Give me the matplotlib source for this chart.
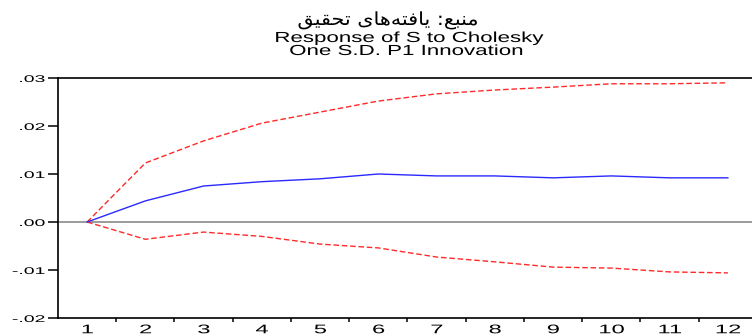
import matplotlib
matplotlib.use("Agg")
import matplotlib.pyplot as plt
from matplotlib.ticker import FixedLocator
from matplotlib.patheffects import AbstractPathEffect
from matplotlib.transforms import Affine2D

periods = list(range(1, 13))
response = [0.0, 0.0044, 0.0075, 0.0084, 0.0090, 0.0100, 0.0096, 0.0096, 0.0092, 0.0096, 0.0092, 0.0092]
upper = [0.0, 0.0123, 0.0169, 0.0206, 0.0229, 0.0252, 0.0267, 0.0275, 0.0281, 0.0288, 0.0288, 0.0290]
lower = [0.0, -0.0036, -0.0021, -0.0030, -0.0046, -0.0054, -0.0073, -0.0083, -0.0094, -0.0096, -0.0104, -0.0106]
y_ticks = [-0.02, -0.01, 0.0, 0.01, 0.02, 0.03]
y_labels = ["-.02", "-.01", ".00", ".01", ".02", ".03"]
x_labels = [str(p) for p in periods]

# Persian caption "منبع: یافته‌های تحقیق" in pre-shaped visual order
persian_title = "\uFED6\uFEF4\uFED8\uFEA4\uFE97 \uFEEF\uFE8E\uFEEB\uFEEA\uFE98\uFED3\uFE8E\uFEF3 :\uFECA\uFE92\uFEE8\uFEE3"
title1 = "Response of S to Cholesky"
title2 = "One S.D. P1 Innovation"


class HStretch(AbstractPathEffect):
    """Draw text stretched horizontally about an anchor (the source image is widened)."""
    def __init__(self, sx, anchor="center"):
        super().__init__()
        self.sx = sx
        self.anchor = anchor

    def draw_path(self, renderer, gc, tpath, affine, rgbFace=None):
        if len(tpath.vertices) == 0:
            return
        v = affine.transform(tpath.vertices)
        if self.anchor == "right":
            cx = v[:, 0].max()
        elif self.anchor == "left":
            cx = v[:, 0].min()
        else:
            cx = 0.5 * (v[:, 0].min() + v[:, 0].max())
        new = affine + Affine2D().translate(-cx, 0).scale(self.sx, 1.0).translate(cx, 0)
        renderer.draw_path(gc, tpath, new, rgbFace)


plt.rcParams['font.family'] = ['Liberation Sans', 'DejaVu Sans']

fig = plt.figure(figsize=(7.52, 3.36), dpi=100)
ax = fig.add_axes([58/752, 18/336, (757-58)/752, (318-78)/336])

ax.axhline(0, color="#8a8a8a", lw=1.2, zorder=1)
ax.plot(periods, upper, color="#ff2a2a", lw=1.0, dashes=(4, 2), zorder=3)
ax.plot(periods, lower, color="#ff2a2a", lw=1.0, dashes=(4, 2), zorder=3)
ax.plot(periods, response, color="#2a2aff", lw=1.0, zorder=4)

ax.set_xlim(0.5, 12.5)
ax.set_ylim(-0.02, 0.03)

ax.set_yticks(y_ticks)
ax.set_yticklabels(y_labels)
ax.set_xticks(periods)
ax.set_xticklabels(x_labels)
ax.xaxis.set_minor_locator(FixedLocator([p + 0.5 for p in periods[:-1]]))
ax.tick_params(axis="x", which="major", length=0, pad=4.5, labelsize=9)
ax.tick_params(axis="x", which="minor", length=3, width=1.1, direction="out")
ax.tick_params(axis="y", length=7, width=1.1, direction="out", labelsize=7, pad=2.5)

for lbl in ax.get_xticklabels():
    lbl.set_path_effects([HStretch(1.9, "center")])
for lbl in ax.get_yticklabels():
    lbl.set_path_effects([HStretch(2.0, "right")])

for s in ["left", "bottom", "top"]:
    ax.spines[s].set_linewidth(1.2)
    ax.spines[s].set_color("black")
ax.spines["right"].set_visible(False)

fig.text(388/752, 1 - 25/336, persian_title, ha="center", va="baseline",
         fontsize=13, family="DejaVu Sans", path_effects=[HStretch(1.15)])
fig.text(409.5/752, 1 - 42/336, title1, ha="center", va="baseline", fontsize=10.5,
         path_effects=[HStretch(1.53)])
fig.text(406.5/752, 1 - 55/336, title2, ha="center", va="baseline", fontsize=10.5,
         path_effects=[HStretch(1.53)])

fig.savefig("out.png", dpi=100)
